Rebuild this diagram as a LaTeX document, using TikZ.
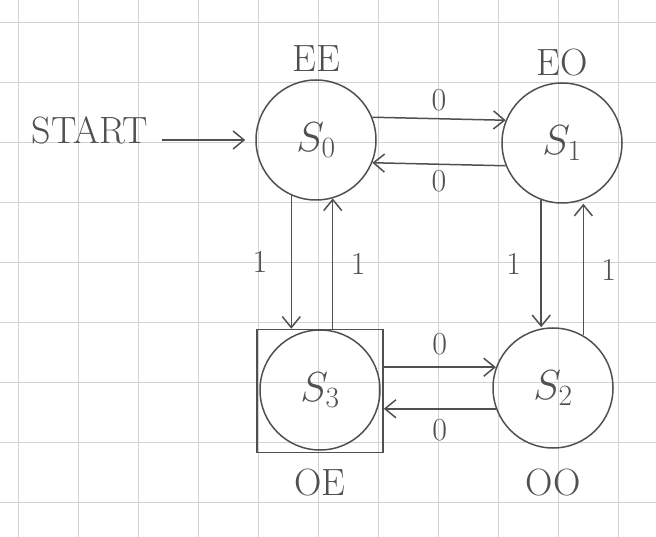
\RequirePackage{fix-cm}
\documentclass[tikz,border=0pt]{standalone}
\usepackage{tikz}
\usetikzlibrary{arrows.meta,positioning}
\tikzset{>={Straight Barb[length=11pt,width=18pt]}}
\definecolor{pencil}{HTML}{505050}
\definecolor{papergrid}{HTML}{D2D2D2}

\begin{document}
\begin{tikzpicture}[x=1pt,y=-1pt,line width=1.5pt,color=pencil,
	state/.style={circle,draw,minimum size=120pt,inner sep=0pt,font=\fontsize{42}{48}\selectfont},
	tag/.style={font=\fontsize{38}{44}\selectfont},
	sym/.style={font=\fontsize{32}{36}\selectfont}]
	\useasboundingbox (0,0) rectangle (656,537);
	\fill[white] (0,0) rectangle (656,537);
	% squared paper
	\foreach \gx in {18,78,...,618} \draw[papergrid,line width=0.8pt] (\gx,0) -- (\gx,537);
	\foreach \gy in {22,82,...,502} \draw[papergrid,line width=0.8pt] (0,\gy) -- (656,\gy);

	\node[state] (s0) at (316,140) {$S_0$};
	\node[state] (s1) at (562,143) {$S_1$};
	\node[state] (s2) at (553,388) {$S_2$};
	\node[state] (s3) at (320,390) {$S_3$};
	\node[draw,rectangle,minimum width=126pt,minimum height=123pt] (s3box) at (320,391) {};

	\node[tag,above=4pt of s0] (ee) {EE};
	\node[tag,above=2pt of s1] (eo) {EO};
	\node[tag,below=12pt of s3box] (oe) {OE};
	\node[tag,below=16pt of s2] (oo) {OO};

	\node[tag] (start) at (90,130) {START};
	\draw[->] ([xshift=10pt]start.east |- s0) -- ([xshift=-10pt]s0.west);

	\draw[->] (s0.22) -- node[sym,above=4pt] (a01) {0} (s1.158);
	\draw[->] (s1.202) -- node[sym,below=2pt] (a10) {0} (s0.-22);
	\draw[->] (s3box.east |- s2.160) -- node[sym,above=8pt] (a32) {0} (s2.160);
	\draw[->] (s2.200) -- node[sym,below=6pt] (a23) {0} (s2.200 -| s3box.east);

	\draw[->] (s0.-114) -- node[sym,left=20pt] (a03) {1} (s0.-114 |- s3box.north);
	\draw[->] (s3box.north -| s0.-74) -- node[sym,right=14pt] (a30) {1} (s0.-74);
	\draw[->] (s1.-110) -- node[sym,left=16pt] (a12) {1} (s1.-110 |- s2.north);
	\draw[->] (s2.60) -- node[sym,right=14pt] (a21) {1} (s2.60 |- s1.south);
\end{tikzpicture}
\end{document}
